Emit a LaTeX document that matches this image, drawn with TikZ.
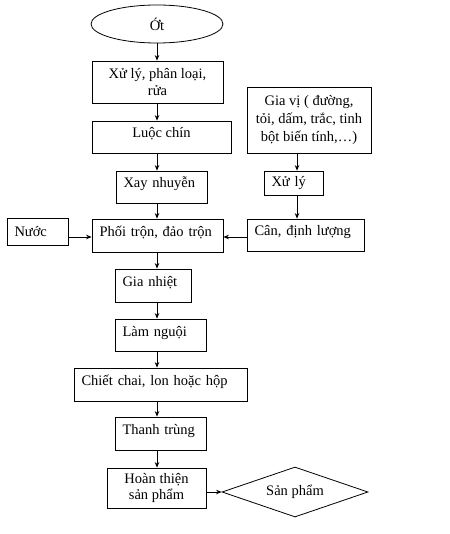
\documentclass[tikz,border=0pt]{standalone}
\usepackage{fontspec}
\setmainfont{Liberation Serif}
\usetikzlibrary{shapes.geometric,arrows.meta}
\tikzset{
  every node/.style={font=\fontsize{14.5}{16.7}\selectfont},
  cbox/.style 2 args={draw, line width=0.8pt, rectangle, minimum width=#1pt, minimum height=#2pt, inner sep=0pt, align=center},
  cboxs/.style 2 args={cbox={#1}{#2}, text height=10pt, text depth=8pt},
  lboxn/.style 2 args={draw, line width=0.8pt, rectangle, inner xsep=7.5pt, inner ysep=0pt, text width=#1pt, minimum height=#2pt, align=left},
  lbox/.style 2 args={lboxn={#1}{#2}, text height=10pt, text depth=8pt},
  arr/.style={-{Stealth[length=5.5pt,width=4.5pt]}, line width=0.8pt}
}
\begin{document}
\begin{tikzpicture}[x=1pt,y=-1pt]
\useasboundingbox (0,0) rectangle (449,534);
\coordinate (spine) at (157,0);
% main column
\node[draw, line width=0.8pt, ellipse, minimum width=132pt, minimum height=38pt, inner sep=0pt] (ot) at (157,24) {Ớt};
\node[cbox={131}{42}] (b1) at (157.5,82) {Xử lý, phân loại,\\rửa};
\node[cboxs={139}{32}] (b2) at (161.5,137) {Luộc chín};
\node[lbox={76}{32}] (b3) at (161.5,187) {Xay nhuyễn};
\node[lbox={116}{33}] (b4) at (157.5,235.5) {Phối trộn, đảo trộn};
\node[lboxn={46}{27}] (nuoc) at (37.5,231.5) {Nước};
\node[lbox={61}{33}] (gn) at (153,285.5) {Gia nhiệt};
\node[lbox={76}{32}] (ln) at (160.5,335) {Làm nguội};
\node[lbox={158}{33}] (cc) at (160.5,384.5) {Chiết chai, lon hoặc hộp};
\node[lbox={76}{33}] (tt) at (160.5,433.5) {Thanh trùng};
\node[cbox={99}{40}] (ht) at (156.5,488) {Hoàn thiện\\sản phẩm};
\node[draw, line width=0.8pt, diamond, aspect=2.92, minimum width=146pt, minimum height=50pt, inner sep=0pt] (sp) at (295,492) {Sản phẩm};
% right column
\node[cbox={124}{66}, font=\fontsize{14.5}{18}\selectfont] (gv) at (309,120) {Gia vị ( đường,\\tỏi, dấm, trắc, tinh\\bột biến tính,…)};
\node[lboxn={44}{24}] (xl) at (293.5,183) {Xử lý};
\node[lbox={102}{32}] (can) at (305.5,235) {Cân, định lượng};
% connectors
\draw[arr] (ot.south -| spine) -- (b1.north -| spine);
\draw[arr] (b1.south -| spine) -- (b2.north -| spine);
\draw[arr] (b2.south -| spine) -- (b3.north -| spine);
\draw[arr] (b3.south -| spine) -- (b4.north -| spine);
\draw[arr] (b4.south -| spine) -- (gn.north -| spine);
\draw[arr] (gn.south -| spine) -- (ln.north -| spine);
\draw[arr] (ln.south -| spine) -- (cc.north -| spine);
\draw[arr] (cc.south -| spine) -- (tt.north -| spine);
\draw[arr] (tt.south -| spine) -- (ht.north -| spine);
\draw[arr] (sp.west -| ht.east) -- (sp.west);
\draw[arr] ([xshift=3.5pt]xl.north |- gv.south) -- ([xshift=3.5pt]xl.north);
\draw[arr] ([xshift=3.5pt]xl.south) -- ([xshift=3.5pt]xl.south |- can.north);
\draw[arr] ([yshift=-1.5pt]b4.west -| nuoc.east) -- ([yshift=-1.5pt]b4.west);
\draw[arr] ([yshift=-2pt]can.west) -- ([yshift=-2pt]can.west -| b4.east);
\end{tikzpicture}
\end{document}
